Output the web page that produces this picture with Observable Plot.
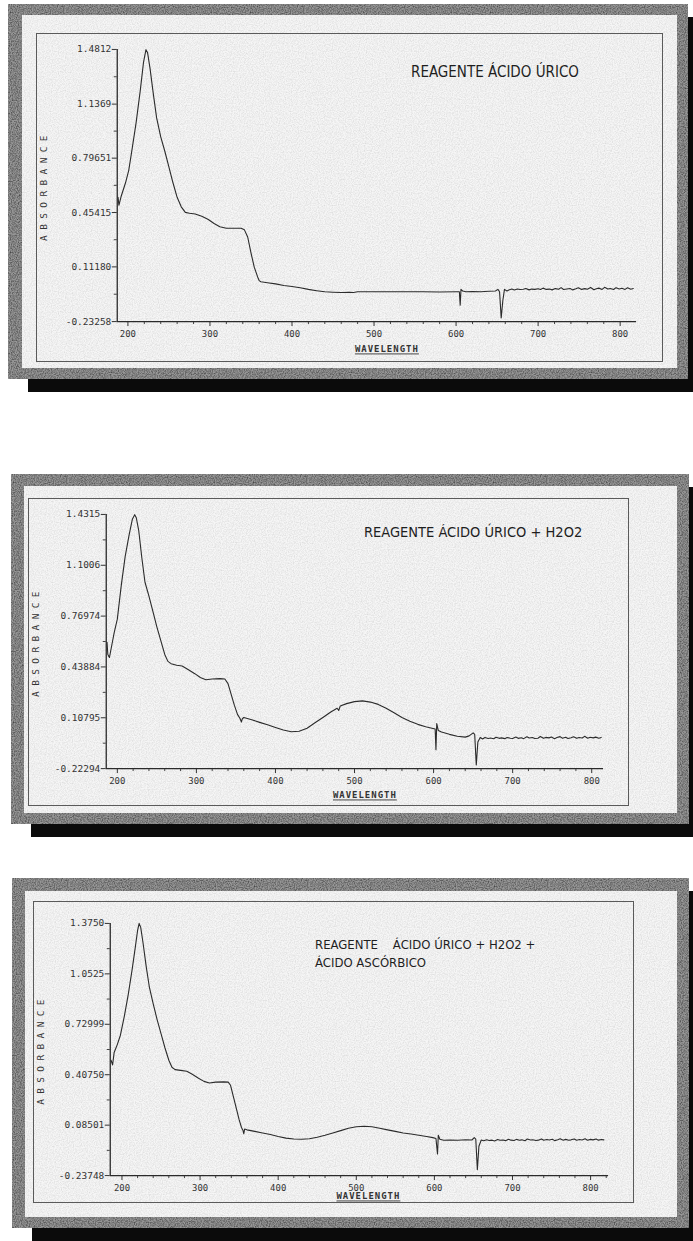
<!DOCTYPE html>
<html><head><meta charset="utf-8">
<script src="https://cdn.jsdelivr.net/npm/d3@7"></script>
<script src="https://cdn.jsdelivr.net/npm/@observablehq/plot@0.6"></script>
<style>
body{margin:0;background:#fff;width:693px;height:1241px;position:relative;overflow:hidden;}
.frame{position:absolute;background:#979797;box-shadow:20px 13px 0 0 #0b0b0b;}
.noise{position:absolute;inset:0;background-image:url("data:image/svg+xml;utf8,<svg xmlns='http://www.w3.org/2000/svg' width='240' height='240'><filter id='n'><feTurbulence type='fractalNoise' baseFrequency='0.85' numOctaves='2' stitchTiles='stitch'/><feColorMatrix values='0 0 0 0 0  0 0 0 0 0  0 0 0 0 0  0 0 0 1.6 -0.55'/></filter><rect width='100%' height='100%' filter='url(%23n)'/></svg>");}
.frame .noise{opacity:.6}
.inner{position:absolute;background:#f6f6f6;overflow:hidden;}
.inner .noise{opacity:.12}
.box{position:absolute;border:1px solid #5a5a5a;box-sizing:border-box;}
.box svg{position:absolute;left:-1px;top:-1px;}
.title{position:absolute;font-family:"DejaVu Sans Condensed","DejaVu Sans",sans-serif;color:#1e1e1e;white-space:pre;}
svg [aria-label="y-axis label"] text{letter-spacing:5.4px;}
svg [aria-label="x-axis label"] text{text-decoration:underline;letter-spacing:1px;font-weight:bold;}
</style>
</head><body>
<script>
// ---------- shared tick labels ----------
const xTickValues = [200, 300, 400, 500, 600, 700, 800];
const xTickLabels = ["200", "300", "400", "500", "600", "700", "800"];
const xLabel = "WAVELENGTH";
const yLabel = "ABSORBANCE";

// ---------- Panel 1: REAGENTE ÁCIDO ÚRICO ----------
const p1Title = "REAGENTE ÁCIDO ÚRICO";
const p1YTickLabels = ["1.4812", "1.1369", "0.79651", "0.45415", "0.11180", "-0.23258"];
const p1Wavelength = [188,189,192,197,201,205,210,215,219,222,224,227,231,235,240,245,250,255,260,265,270,275,282,290,298,305,312,320,330,338,342,346,350,354,358,360,362,370,380,390,400,410,420,430,440,450,460,470,475,480,490,500,520,540,560,580,600,604,605,606,608,612,620,630,640,648,651,653,655,657,659,662,665,668,671,675,678,682,685,689,692,696,700,703,706,710,714,717,721,725,728,731,735,739,742,746,749,753,757,760,764,768,771,774,778,781,785,788,792,795,799,802,806,809,813,816];
const p1Absorbance = [0.55,0.50,0.56,0.64,0.72,0.85,1.02,1.22,1.40,1.48,1.46,1.36,1.20,1.05,0.93,0.84,0.74,0.64,0.55,0.49,0.455,0.45,0.445,0.43,0.41,0.385,0.365,0.355,0.355,0.355,0.345,0.30,0.20,0.11,0.05,0.025,0.018,0.012,0.005,-0.005,-0.012,-0.02,-0.03,-0.038,-0.045,-0.048,-0.05,-0.048,-0.05,-0.045,-0.045,-0.045,-0.045,-0.045,-0.045,-0.046,-0.045,-0.045,-0.13,-0.03,-0.04,-0.045,-0.043,-0.045,-0.042,-0.04,-0.03,-0.045,-0.21,-0.10,-0.03,-0.04,-0.032,-0.028,-0.034,-0.027,-0.031,-0.029,-0.024,-0.033,-0.028,-0.03,-0.026,-0.031,-0.022,-0.03,-0.028,-0.033,-0.025,-0.029,-0.019,-0.031,-0.027,-0.024,-0.033,-0.026,-0.02,-0.03,-0.025,-0.029,-0.018,-0.032,-0.026,-0.022,-0.03,-0.017,-0.028,-0.024,-0.031,-0.019,-0.027,-0.023,-0.03,-0.02,-0.029,-0.024,-0.027];

// ---------- Panel 2: REAGENTE ÁCIDO ÚRICO + H2O2 ----------
const p2Title = "REAGENTE ÁCIDO ÚRICO + H2O2";
const p2YTickLabels = ["1.4315", "1.1006", "0.76974", "0.43884", "0.10795", "-0.22294"];
const p2Wavelength = [187,188,190,193,196,200,205,210,215,219,222,224,227,231,235,240,245,250,255,260,264,268,275,282,290,298,305,312,320,330,336,340,344,348,352,355,357,358,360,370,380,390,400,410,420,430,440,450,460,470,478,480,482,490,500,510,520,530,540,550,560,570,580,590,598,602,603,604,606,610,620,630,640,645,650,652,654,656,659,662,665,669,672,676,679,683,686,690,693,697,700,704,707,711,714,718,721,725,728,732,735,739,742,746,749,753,756,760,763,767,770,774,777,781,784,788,791,795,798,802,805,809,812];
const p2Absorbance = [0.60,0.52,0.50,0.58,0.66,0.75,0.97,1.16,1.30,1.40,1.43,1.41,1.33,1.15,0.99,0.90,0.80,0.70,0.61,0.52,0.475,0.46,0.45,0.445,0.42,0.395,0.37,0.355,0.36,0.363,0.36,0.33,0.26,0.19,0.13,0.105,0.08,0.10,0.11,0.095,0.078,0.062,0.045,0.028,0.017,0.02,0.04,0.075,0.11,0.145,0.17,0.155,0.185,0.20,0.213,0.218,0.21,0.195,0.17,0.14,0.11,0.085,0.065,0.05,0.04,0.035,-0.10,0.07,0.025,0.015,0.0,-0.012,-0.018,-0.01,0.01,0.0,-0.20,-0.05,-0.02,-0.03,-0.021,-0.027,-0.024,-0.029,-0.019,-0.026,-0.023,-0.028,-0.02,-0.025,-0.027,-0.018,-0.026,-0.022,-0.028,-0.016,-0.024,-0.021,-0.027,-0.025,-0.014,-0.026,-0.02,-0.023,-0.017,-0.028,-0.021,-0.015,-0.025,-0.019,-0.027,-0.022,-0.016,-0.026,-0.02,-0.024,-0.013,-0.025,-0.019,-0.023,-0.018,-0.025,-0.02,-0.022];

// ---------- Panel 3: REAGENTE ÁCIDO ÚRICO + H2O2 + ÁCIDO ASCÓRBICO ----------
const p3TitleLines = ["REAGENTE    ÁCIDO ÚRICO + H2O2 +", "ÁCIDO ASCÓRBICO"];
const p3YTickLabels = ["1.3750", "1.0525", "0.72999", "0.40750", "0.08501", "-0.23748"];
const p3Wavelength = [186,188,190,194,198,203,208,213,217,220,222,224,227,231,235,240,245,250,255,260,264,268,275,283,290,298,305,312,320,330,336,339,342,346,350,353,355,356,357,360,370,380,390,400,410,420,430,440,450,460,470,480,490,500,510,520,530,540,550,560,570,580,590,598,602,604,605,607,612,620,630,640,648,651,653,655,657,660,663,667,670,674,677,681,684,688,691,695,698,702,705,709,712,716,719,723,726,730,733,737,740,744,747,751,754,758,761,765,768,772,775,779,782,786,789,793,796,800,803,807,810,814,817];
const p3Absorbance = [0.50,0.47,0.55,0.60,0.66,0.78,0.92,1.08,1.22,1.33,1.375,1.35,1.25,1.10,0.97,0.86,0.76,0.67,0.58,0.50,0.455,0.44,0.435,0.43,0.41,0.385,0.365,0.355,0.36,0.362,0.36,0.34,0.28,0.20,0.12,0.07,0.05,0.03,0.06,0.055,0.045,0.035,0.025,0.012,0.002,-0.004,-0.005,-0.002,0.008,0.02,0.035,0.05,0.065,0.075,0.078,0.075,0.065,0.055,0.045,0.035,0.028,0.02,0.012,0.005,0.0,-0.10,0.02,-0.005,-0.012,-0.01,-0.012,-0.008,-0.01,0.005,-0.005,-0.20,-0.05,-0.01,-0.015,-0.009,-0.013,-0.011,-0.016,-0.007,-0.012,-0.01,-0.014,-0.005,-0.011,-0.013,-0.006,-0.012,-0.009,-0.015,-0.004,-0.01,-0.008,-0.013,-0.011,-0.003,-0.012,-0.007,-0.01,-0.005,-0.014,-0.008,-0.002,-0.011,-0.006,-0.012,-0.009,-0.003,-0.012,-0.007,-0.01,-0.002,-0.011,-0.006,-0.009,-0.004,-0.011,-0.007,-0.009,-0.005];

// ---------- layout (decoration only) ----------
const layouts = [
  {frame:[8,4,680,375], inner:[22,15,655,353], box:[36,33,627,329], m:{t:16,r:25,b:40,l:81}, xdom:[187,820], labelDx:10, xLabelOffset:31,
   title:[p1Title], titlePos:[411,63], titleSize:15, wl:p1Wavelength, ab:p1Absorbance, yl:p1YTickLabels},
  {frame:[11,474,678,350], inner:[24,486,653,327], box:[28,498,601,308], m:{t:16,r:24,b:37,l:78}, xdom:[186,815], labelDx:10, xLabelOffset:30,
   title:[p2Title], titlePos:[364,523], titleSize:14.5, wl:p2Wavelength, ab:p2Absorbance, yl:p2YTickLabels},
  {frame:[12,878,677,350], inner:[25,891,652,326], box:[33,901,601,302], m:{t:22,r:24,b:27,l:77}, xdom:[185,823], labelDx:9, xLabelOffset:24,
   title:p3TitleLines, titlePos:[315,936], titleSize:13, wl:p3Wavelength, ab:p3Absorbance, yl:p3YTickLabels}
];

function place(el, r){ el.style.left=r[0]+"px"; el.style.top=r[1]+"px"; el.style.width=r[2]+"px"; el.style.height=r[3]+"px"; }
const blank = () => "";

for (const L of layouts) {
  const frame = document.createElement("div"); frame.className="frame"; place(frame, L.frame);
  frame.innerHTML = '<div class="noise"></div>';
  document.body.appendChild(frame);
  const inner = document.createElement("div"); inner.className="inner"; place(inner, L.inner);
  inner.innerHTML = '<div class="noise"></div>';
  document.body.appendChild(inner);

  const data = L.wl.map((w, i) => ({w, a: L.ab[i]}));
  const yTicks = L.yl.map(Number);
  const yMap = new Map(yTicks.map((v, i) => [v, L.yl[i]]));
  const xMap = new Map(xTickValues.map((v, i) => [v, xTickLabels[i]]));
  const yDom = [yTicks[yTicks.length-1], yTicks[0]];
  const yMinor = yTicks.slice(1).map((v, i) => (v + yTicks[i]) / 2);
  const xMinor = d3.range(200, L.xdom[1], 20).filter(v => v % 100 !== 0);

  const plot = Plot.plot({
    width: L.box[2], height: L.box[3],
    marginTop: L.m.t, marginRight: L.m.r, marginBottom: L.m.b, marginLeft: L.m.l,
    style: {background: "transparent", fontFamily: "'DejaVu Sans Mono', monospace", fontSize: "9px", color: "#333", overflow: "visible"},
    x: {domain: L.xdom},
    y: {domain: yDom},
    marks: [
      Plot.axisX(xMinor, {tickSize: 3, tickFormat: blank, label: null, stroke: "#444"}),
      Plot.axisX(xTickValues, {tickSize: 5, tickPadding: 4, tickFormat: d => xMap.get(d), stroke: "#333",
        label: xLabel, labelAnchor: "center", labelArrow: "none", labelOffset: L.xLabelOffset}),
      Plot.axisY(yMinor, {tickSize: 3, tickFormat: blank, label: null, stroke: "#444"}),
      Plot.axisY(yTicks, {tickSize: 5, tickPadding: 1, tickFormat: d => yMap.get(d), fontSize: 9.5, stroke: "#333",
        label: yLabel, labelAnchor: "center", labelArrow: "none", labelOffset: L.m.l - 4}),
      Plot.ruleX([L.xdom[0]], {stroke: "#2a2a2a", strokeWidth: 1.3}),
      Plot.ruleY([yDom[0]], {stroke: "#2a2a2a", strokeWidth: 1.3}),
      Plot.line(data, {x: "w", y: "a", stroke: "#2b2b2b", strokeWidth: 1.1})
    ]
  });
  const box = document.createElement("div"); box.className="box"; place(box, L.box);
  box.appendChild(plot);
  document.body.appendChild(box);
  const xl = plot.querySelector('[aria-label="x-axis label"] text');
  if (xl) xl.setAttribute("dx", L.labelDx);

  const t = document.createElement("div"); t.className="title";
  t.style.left=L.titlePos[0]+"px"; t.style.top=L.titlePos[1]+"px";
  t.style.fontSize=L.titleSize+"px"; t.style.lineHeight="18px";
  t.textContent = L.title.join("\n");
  document.body.appendChild(t);
}
</script>
</body></html>
